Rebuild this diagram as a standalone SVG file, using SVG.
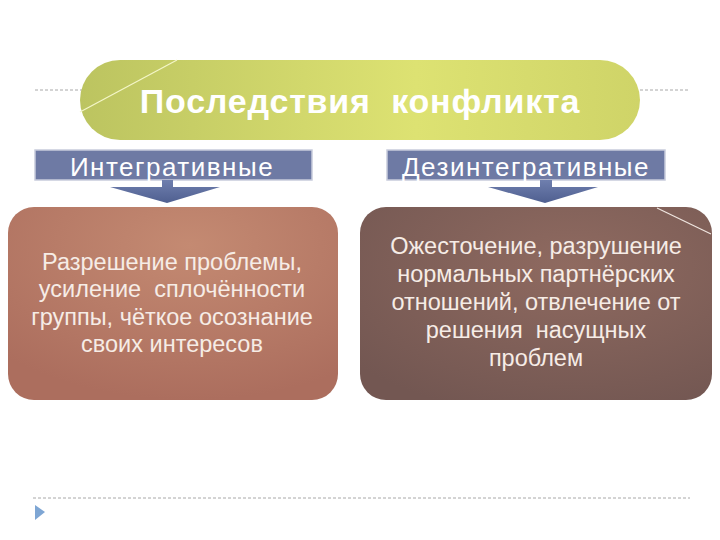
<svg xmlns="http://www.w3.org/2000/svg" width="720" height="540" viewBox="0 0 720 540">
<defs>
<linearGradient id="gPill" x1="0" y1="0" x2="1" y2="0">
<stop offset="0" stop-color="#bcc460"/>
<stop offset="0.6" stop-color="#dde272"/>
<stop offset="1" stop-color="#cfd468"/>
</linearGradient>
<radialGradient id="gLeft" cx="0.55" cy="0.2" r="0.8">
<stop offset="0" stop-color="#c48a72"/>
<stop offset="1" stop-color="#ac6e5e"/>
</radialGradient>
<radialGradient id="gRight" cx="0.6" cy="0.3" r="0.8">
<stop offset="0" stop-color="#8f6a60"/>
<stop offset="1" stop-color="#735752"/>
</radialGradient>
<linearGradient id="gArrow" x1="0" y1="0" x2="0" y2="1">
<stop offset="0" stop-color="#6f7fae"/>
<stop offset="1" stop-color="#4f5f90"/>
</linearGradient>
</defs>
<style>
text{white-space:pre}
.dash{stroke:#a8a8a8;stroke-width:1;stroke-dasharray:3 2;fill:none}
.lab{fill:#6e7aa4;stroke:#c8ccdc;stroke-width:1.5}
.labt{font-family:"Liberation Sans",Arial,sans-serif;font-size:26px;letter-spacing:1.5px;fill:#ffffff;text-anchor:middle}
.body{font-family:"Liberation Sans",Arial,sans-serif;font-size:23.5px;fill:#f6ece6;text-anchor:middle}
.arr{fill:url(#gArrow)}
.hl{stroke:#f4f6c8;stroke-width:1.2;fill:none}
</style>
<rect width="720" height="540" fill="#ffffff"/>
<line class="dash" x1="35" y1="90" x2="690" y2="90"/>
<line class="dash" x1="33" y1="498" x2="690" y2="498"/>
<g id="title">
<rect x="80" y="60" width="560" height="80" rx="40" ry="40" fill="url(#gPill)"/>
<line class="hl" x1="177" y1="60" x2="80" y2="112"/>
<text xml:space="preserve" x="360" y="113" font-family="Liberation Sans, Arial, sans-serif" font-size="34" letter-spacing="0.8" font-weight="bold" fill="#ffffff" text-anchor="middle">Последствия  конфликта</text>
</g>
<g id="label-left">
<rect class="lab" x="35" y="150" width="277" height="30"/>
<text class="labt" x="172" y="176">Интегративные</text>
</g>
<g id="label-right">
<rect class="lab" x="387" y="150" width="278" height="30"/>
<text class="labt" x="526" y="176">Дезинтегративные</text>
</g>
<g id="connectors">
<path class="arr" d="M162 180 H173 V187 H220 L167 203 L110 187 H162 Z"/>
<path class="arr" d="M540 180 H552 V187 H598 L545 203 L488 187 H540 Z"/>
</g>
<g id="box-left">
<rect x="8" y="207" width="330" height="193" rx="26" ry="26" fill="url(#gLeft)"/>
<text class="body" x="172" y="270">Разрешение проблемы,</text>
<text xml:space="preserve" class="body" x="172" y="297">усиление  сплочённости</text>
<text class="body" x="172" y="325">группы, чёткое осознание</text>
<text class="body" x="172" y="352">своих интересов</text>
</g>
<g id="box-right">
<rect x="360" y="207" width="352" height="193" rx="26" ry="26" fill="url(#gRight)"/>
<line x1="657" y1="208" x2="711" y2="234" stroke="#f0e6e0" stroke-width="1.2"/>
<text class="body" x="536" y="254">Ожесточение, разрушение</text>
<text class="body" x="536" y="282">нормальных партнёрских</text>
<text class="body" x="536" y="310">отношений, отвлечение от</text>
<text xml:space="preserve" class="body" x="536" y="338">решения  насущных</text>
<text class="body" x="536" y="366">проблем</text>
</g>
<polygon points="35,505 45,512 35,520" fill="#7ea6d4"/>
</svg>
